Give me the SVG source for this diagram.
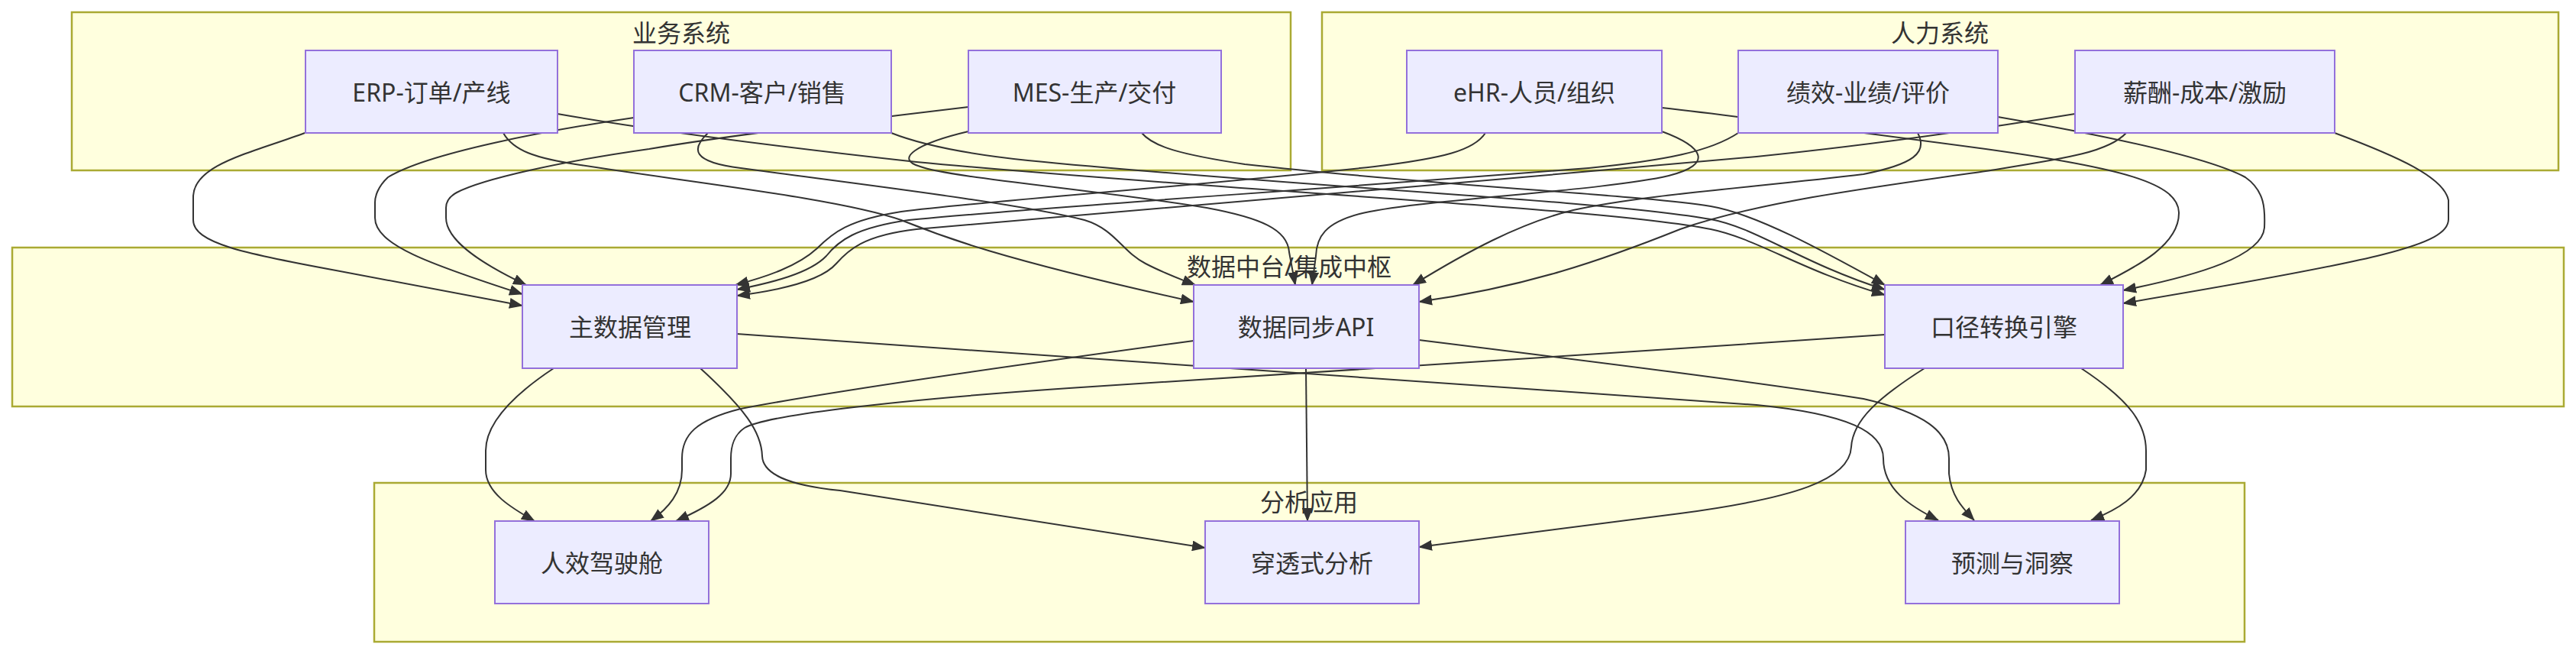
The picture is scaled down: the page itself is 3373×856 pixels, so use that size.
<svg xmlns="http://www.w3.org/2000/svg" width="3373" height="856" viewBox="0 0 3373 856">
<style>
.cl rect{fill:#ffffde;stroke:#aaaa33;stroke-width:2.5}
.nd rect{fill:#ececff;stroke:#9370db;stroke-width:2}
text{font-family:"Noto Sans","Noto Sans CJK SC",sans-serif;font-size:32px;fill:#333333;text-anchor:middle;dominant-baseline:central}
#edges path{fill:none;stroke:#333333;stroke-width:2;marker-end:url(#arr)}
</style>
<defs>
<marker id="arr" markerUnits="userSpaceOnUse" viewBox="0 0 18 14" markerWidth="18" markerHeight="14" refX="17" refY="7" orient="auto">
<path d="M0,0 L18,7 L0,14 z" fill="#333333"/>
</marker>
</defs>
<rect width="3373" height="856" fill="#ffffff"/>
<g id="clusters">
<g id="cl-biz" class="cl"><rect x="94" y="16" width="1596" height="207"/><text x="892" y="42">业务系统</text></g>
<g id="cl-hr" class="cl"><rect x="1731" y="16" width="1619" height="207"/><text x="2540" y="42">人力系统</text></g>
<g id="cl-hub" class="cl"><rect x="16" y="324" width="3341" height="208"/><text x="1688" y="348">数据中台/集成中枢</text></g>
<g id="cl-app" class="cl"><rect x="490" y="632" width="2449" height="208"/><text x="1714" y="656">分析应用</text></g>
</g>
<g id="edges">
<path d="M399,174 C330,200 253,215 253,258 L253,288 C253,318 320,332 440,354 L684,400"/>
<path d="M659,174 C672,197 700,207 760,216 C900,238 1100,260 1180,288 C1230,308 1300,337 1563,395"/>
<path d="M730,149 C850,170 1000,190 1200,212 C1600,250 2100,272 2240,300 C2300,312 2360,355 2468,386"/>
<path d="M830,154 C720,170 560,200 508,232 C494,245 491,258 491,265 L491,285 C491,320 560,345 684,385"/>
<path d="M927,174 C905,195 905,212 970,220 C1100,238 1330,265 1420,288 C1460,300 1470,330 1500,345 C1525,358 1545,365 1565,373"/>
<path d="M1167,174 C1200,187 1260,201 1346,210 C1700,245 2100,262 2240,287 C2300,298 2360,345 2468,379"/>
<path d="M1268,140 C1100,160 950,178 850,195 C730,212 630,235 598,252 C587,258 584,265 584,272 L584,285 C584,315 630,345 689,373"/>
<path d="M1268,172 C1200,188 1170,208 1205,218 C1240,232 1450,250 1580,272 C1650,285 1686,300 1688,330 L1696,373"/>
<path d="M1495,174 C1510,192 1545,202 1630,215 C1900,245 2150,255 2240,270 C2300,280 2390,330 2468,373"/>
<path d="M1945,174 C1930,197 1890,207 1800,218 C1550,245 1300,262 1180,277 C1110,288 1090,305 1070,325 C1045,348 1005,362 963,373"/>
<path d="M2276,174 C2240,198 2180,210 2080,220 C1700,250 1350,272 1190,288 C1120,298 1098,315 1082,335 C1060,358 1010,370 965,379"/>
<path d="M2717,149 C2600,168 2450,190 2300,205 C1900,240 1400,285 1200,300 C1130,308 1110,328 1095,345 C1075,368 1020,380 965,387"/>
<path d="M2176,172 C2230,192 2245,215 2185,230 C2100,250 1850,262 1780,280 C1735,292 1724,310 1723,335 L1718,373"/>
<path d="M2511,174 C2525,200 2505,215 2440,228 C2300,245 2150,255 2060,275 C1990,292 1920,330 1850,373"/>
<path d="M2784,174 C2760,200 2700,208 2600,224 C2450,245 2300,265 2200,300 C2100,340 2000,375 1858,395"/>
<path d="M2176,141 C2300,155 2450,175 2600,195 C2780,220 2852,240 2853,278 C2854,320 2800,348 2750,373"/>
<path d="M2616,153 C2760,178 2890,205 2940,232 C2966,250 2966,275 2965,298 C2962,335 2880,360 2780,380"/>
<path d="M3057,174 C3140,205 3200,232 3206,262 L3206,287 C3206,320 3120,340 2780,397"/>
<path d="M725,482 C660,525 636,560 636,590 L636,615 C636,645 670,665 700,682"/>
<path d="M917,482 C975,535 997,565 998,597 C999,620 1030,635 1100,642 C1250,665 1400,690 1578,717"/>
<path d="M965,437 C1500,472 2000,505 2300,530 C2420,542 2466,565 2466,600 C2466,640 2500,662 2538,681"/>
<path d="M1563,446 C1350,475 1100,510 970,535 C910,550 893,570 893,600 L893,615 C893,645 875,665 852,682"/>
<path d="M1710,482 L1712,682"/>
<path d="M1858,445 C2100,475 2300,500 2440,522 C2520,540 2552,565 2552,600 L2552,620 C2555,650 2570,665 2585,681"/>
<path d="M2468,438 C2100,463 1700,490 1400,508 C1150,525 1000,545 975,560 C960,570 957,585 957,600 L957,620 C957,645 930,662 885,682"/>
<path d="M2520,482 C2460,520 2426,550 2424,585 C2422,628 2350,652 2200,672 L1858,716"/>
<path d="M2725,482 C2790,525 2810,555 2810,590 L2810,615 C2805,650 2770,668 2738,681"/>
</g>
<g id="nodes">
<g id="n-erp" class="nd"><rect x="400" y="66" width="330" height="108"/><text x="565" y="120">ERP-订单/产线</text></g>
<g id="n-crm" class="nd"><rect x="830" y="66" width="337" height="108"/><text x="998" y="120">CRM-客户/销售</text></g>
<g id="n-mes" class="nd"><rect x="1268" y="66" width="331" height="108"/><text x="1433" y="120">MES-生产/交付</text></g>
<g id="n-ehr" class="nd"><rect x="1842" y="66" width="334" height="108"/><text x="2009" y="120">eHR-人员/组织</text></g>
<g id="n-perf" class="nd"><rect x="2276" y="66" width="340" height="108"/><text x="2446" y="120">绩效-业绩/评价</text></g>
<g id="n-pay" class="nd"><rect x="2717" y="66" width="340" height="108"/><text x="2887" y="120">薪酬-成本/激励</text></g>
<g id="n-mdm" class="nd"><rect x="684" y="373" width="281" height="109"/><text x="825" y="427">主数据管理</text></g>
<g id="n-api" class="nd"><rect x="1563" y="373" width="295" height="109"/><text x="1710" y="427">数据同步API</text></g>
<g id="n-conv" class="nd"><rect x="2468" y="373" width="312" height="109"/><text x="2624" y="427">口径转换引擎</text></g>
<g id="n-dash" class="nd"><rect x="648" y="682" width="280" height="108"/><text x="788" y="736">人效驾驶舱</text></g>
<g id="n-drill" class="nd"><rect x="1578" y="682" width="280" height="108"/><text x="1718" y="736">穿透式分析</text></g>
<g id="n-pred" class="nd"><rect x="2495" y="682" width="280" height="108"/><text x="2635" y="736">预测与洞察</text></g>
</g>
</svg>
